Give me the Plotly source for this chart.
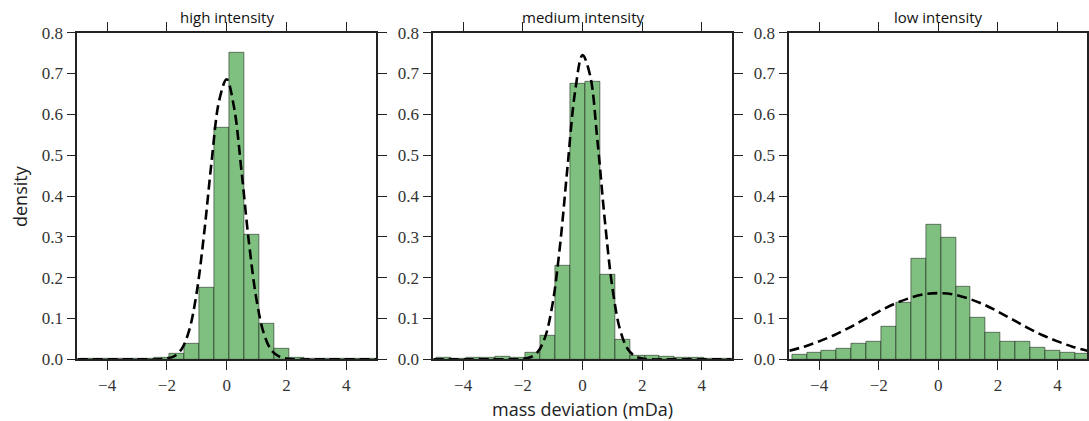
import plotly.graph_objects as go

# ---------------- data ----------------
bin_edges = [-4.91, -4.41, -3.91, -3.41, -2.91, -2.41, -1.91, -1.41, -0.91, -0.41,
             0.09, 0.59, 1.09, 1.59, 2.09, 2.59, 3.09, 3.59, 4.09, 4.59]
bin_width = 0.5

titles = ["high intensity", "medium intensity", "low intensity"]

high_density = [0.002, 0.002, 0.001, 0.002, 0.002, 0.003, 0.013, 0.037, 0.176, 0.568,
                0.752, 0.305, 0.088, 0.025, 0.004, 0.002, 0.002, 0.001, 0.002, 0.001]
medium_density = [0.003, 0.002, 0.003, 0.003, 0.006, 0.004, 0.017, 0.057, 0.230, 0.676,
                  0.680, 0.207, 0.047, 0.010, 0.008, 0.006, 0.004, 0.003, 0.002, 0.002]
low_density = [0.011, 0.016, 0.021, 0.025, 0.038, 0.043, 0.079, 0.138, 0.246, 0.329,
               0.299, 0.177, 0.103, 0.066, 0.042, 0.042, 0.029, 0.022, 0.016, 0.013]

curve_x_narrow = [-5.0, -3.0, -2.25, -2.0, -1.75, -1.5, -1.25, -1.0, -0.75, -0.5, -0.25, 0.0,
                  0.25, 0.5, 0.75, 1.0, 1.25, 1.5, 1.75, 2.0, 2.25, 3.0, 5.0]
high_curve = [0.0, 0.0, 0.0, 0.002, 0.008, 0.026, 0.072, 0.165, 0.311, 0.487, 0.634, 0.686,
              0.616, 0.459, 0.284, 0.146, 0.062, 0.022, 0.007, 0.002, 0.0, 0.0, 0.0]
medium_curve = [0.0, 0.0, 0.0, 0.001, 0.005, 0.018, 0.055, 0.137, 0.281, 0.473, 0.655, 0.745,
                0.697, 0.536, 0.339, 0.176, 0.075, 0.027, 0.008, 0.002, 0.0, 0.0, 0.0]

curve_x_wide = [-5.0, -4.5, -4.0, -3.5, -3.0, -2.5, -2.0, -1.5, -1.0, -0.5, 0.0,
                0.5, 1.0, 1.5, 2.0, 2.5, 3.0, 3.5, 4.0, 4.5, 5.0]
low_curve = [0.021, 0.031, 0.044, 0.059, 0.077, 0.097, 0.117, 0.135, 0.149, 0.159, 0.162,
             0.159, 0.149, 0.135, 0.117, 0.097, 0.077, 0.059, 0.044, 0.031, 0.021]

x_tick_vals = [-4, -2, 0, 2, 4]
y_tick_vals = [0.0, 0.1, 0.2, 0.3, 0.4, 0.5, 0.6, 0.7, 0.8]

x_label = "mass deviation (mDa)"
y_label = "density"

# ---------------- figure ----------------
W, H = 1089, 421
fig = go.Figure()

panels = [
    (high_density, curve_x_narrow, high_curve),
    (medium_density, curve_x_narrow, medium_curve),
    (low_density, curve_x_wide, low_curve),
]

x_domains = [[77.3 / W, 376.0 / W], [433.3 / W, 731.7 / W], [789.3 / W, 1087.3 / W]]
y_domain = [1 - 359.3 / H, 1 - 32.7 / H]

bar_color = "rgb(127,191,127)"
tick_font = dict(family="Liberation Serif", size=17, color="#333")
label_font = dict(family="Open Sans", size=18, color="#222")

for i, (dens, cx, cy) in enumerate(panels):
    n = "" if i == 0 else str(i + 1)
    fig.add_trace(go.Bar(
        x=bin_edges, y=dens, width=bin_width, offset=0,
        marker=dict(color=bar_color, line=dict(color="rgba(0,0,0,0.6)", width=0.8)),
        xaxis="x" + n, yaxis="y" + n, showlegend=False, hoverinfo="skip",
    ))
    fig.add_trace(go.Scatter(
        x=cx, y=cy, mode="lines", line=dict(color="black", width=2.6, dash="10px,5px", shape="spline"),
        xaxis="x" + n, yaxis="y" + n, showlegend=False, hoverinfo="skip",
    ))
    axis_common = dict(
        showgrid=False, zeroline=False, showline=True, linecolor="#222", linewidth=1.6,
        mirror="ticks", ticks="outside", ticklen=9, tickwidth=1.3, tickcolor="#222",
        tickfont=tick_font, automargin=False,
    )
    fig.layout["xaxis" + n] = dict(
        domain=x_domains[i], range=[-5, 5], anchor="y" + n,
        tickvals=x_tick_vals, **axis_common,
    )
    fig.layout["yaxis" + n] = dict(
        domain=y_domain, range=[0, 0.8], anchor="x" + n,
        tickvals=y_tick_vals, tickformat=".1f", **axis_common,
    )
    fig.add_annotation(
        x=(x_domains[i][0] + x_domains[i][1]) / 2, y=1 - 29 / H, xref="paper", yref="paper",
        text=titles[i], showarrow=False, xanchor="center", yanchor="bottom",
        font=dict(family="Open Sans", size=15, color="#111"),
    )

fig.add_annotation(
    x=582 / W, y=1 - 409 / H, xref="paper", yref="paper", text=x_label, showarrow=False,
    xanchor="center", yanchor="middle", font=label_font,
)
fig.add_annotation(
    x=20 / W, y=1 - 196 / H, xref="paper", yref="paper", text=y_label, showarrow=False,
    xanchor="center", yanchor="middle", textangle=-90, font=label_font,
)

fig.update_layout(
    template="none",
    width=W, height=H, margin=dict(l=0, r=0, t=0, b=0, autoexpand=False),
    paper_bgcolor="white", plot_bgcolor="white", bargap=0,
)

fig.write_html("out.html")
